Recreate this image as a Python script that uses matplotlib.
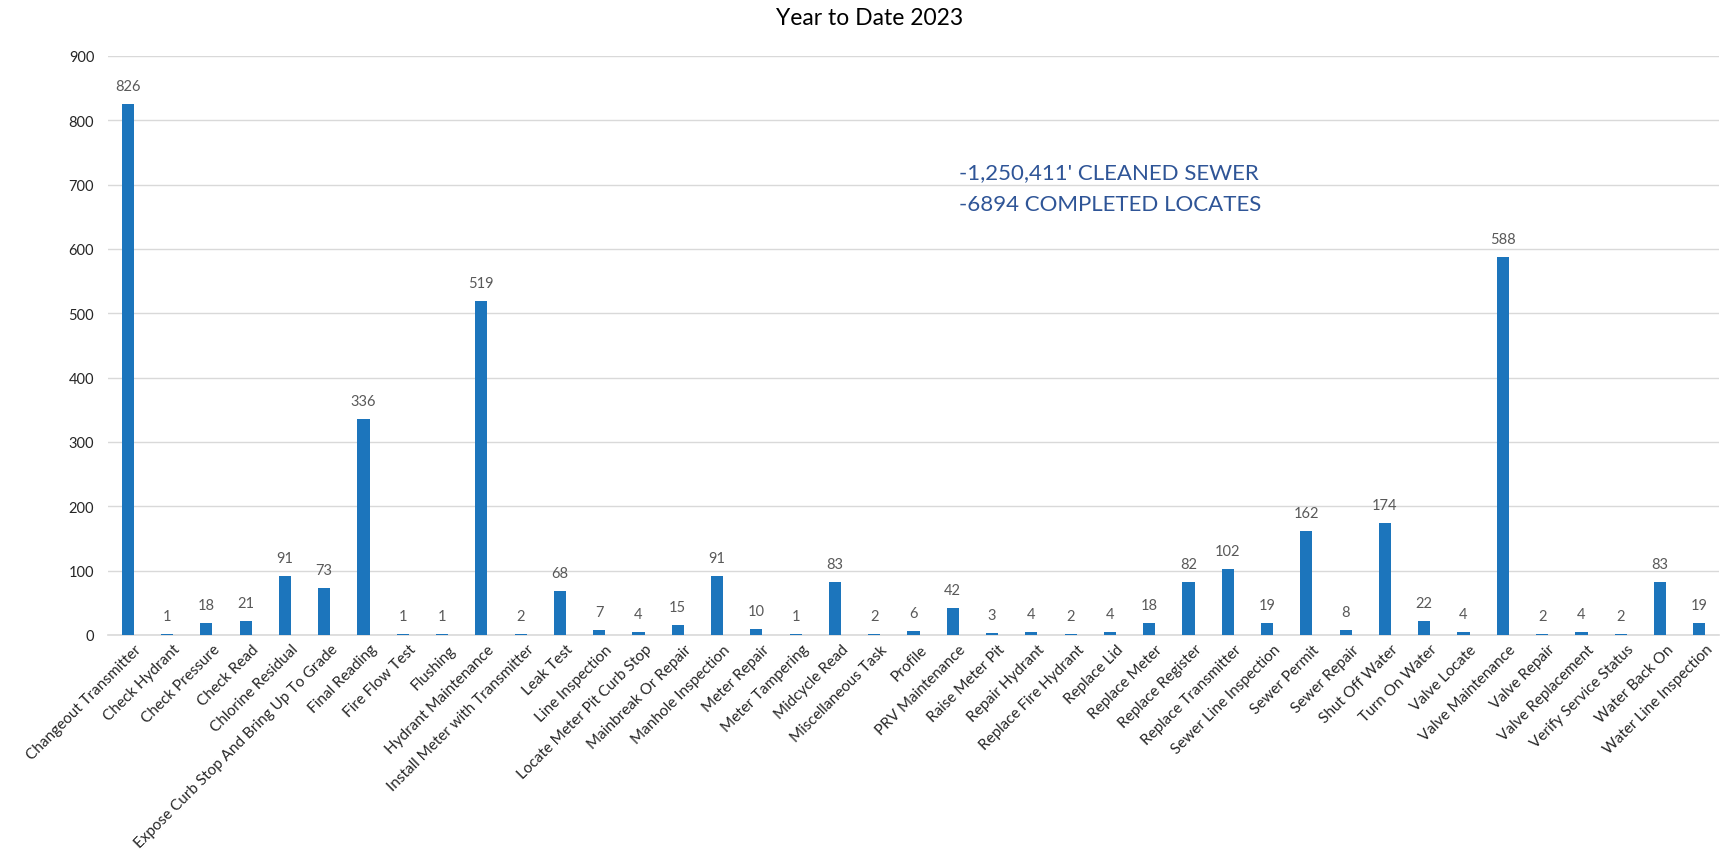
import matplotlib.pyplot as plt
from matplotlib.transforms import ScaledTranslation

plt.rcParams['font.family'] = ['Lato', 'DejaVu Sans']

tasks = [
    'Changeout Transmitter', 'Check Hydrant', 'Check Pressure', 'Check Read',
    'Chlorine Residual', 'Expose Curb Stop And Bring Up To Grade', 'Final Reading',
    'Fire Flow Test', 'Flushing', 'Hydrant Maintenance', 'Install Meter with Transmitter',
    'Leak Test', 'Line Inspection', 'Locate Meter Pit Curb Stop', 'Mainbreak Or Repair',
    'Manhole Inspection', 'Meter Repair', 'Meter Tampering', 'Midcycle Read',
    'Miscellaneous Task', 'Profile', 'PRV Maintenance', 'Raise Meter Pit',
    'Repair Hydrant', 'Replace Fire Hydrant', 'Replace Lid', 'Replace Meter',
    'Replace Register', 'Replace Transmitter', 'Sewer Line Inspection', 'Sewer Permit',
    'Sewer Repair', 'Shut Off Water', 'Turn On Water', 'Valve Locate',
    'Valve Maintenance', 'Valve Repair', 'Valve Replacement', 'Verify Service Status',
    'Water Back On', 'Water Line Inspection',
]
counts = [
    826, 1, 18, 21, 91, 73, 336, 1, 1, 519, 2, 68, 7, 4, 15, 91, 10, 1, 83, 2,
    6, 42, 3, 4, 2, 4, 18, 82, 102, 19, 162, 8, 174, 22, 4, 588, 2, 4, 2, 83, 19,
]
notes = ["-1,250,411' CLEANED SEWER", "-6894 COMPLETED LOCATES"]

fig = plt.figure(figsize=(17.21, 8.53), dpi=100)
ax = fig.add_axes([0.0628, 0.2544, 0.936, 0.6788])

x = list(range(len(tasks)))
bars = ax.bar(x, counts, width=0.31, color='#1C75BC', zorder=3)
for b, v in zip(bars, counts):
    ax.annotate(str(v), (b.get_x() + b.get_width() / 2, v), xytext=(0, 13),
                textcoords='offset points', ha='center', va='center',
                fontsize=10.5, color='#595959')

ax.set_xlim(-0.5, len(tasks) - 0.5)
ax.set_ylim(0, 900)
ax.set_yticks(range(0, 901, 100))
ax.grid(axis='y', color='#D9D9D9', linewidth=1, zorder=0)
for s in ['top', 'right', 'left']:
    ax.spines[s].set_visible(False)
ax.spines['bottom'].set_color('#D9D9D9')
ax.spines['bottom'].set_linewidth(1.2)

ax.set_xticks(x)
ax.set_xticklabels(tasks, rotation=45, ha='right', rotation_mode='anchor',
                   fontsize=11, color='#262626')
ax.tick_params(axis='x', length=0, pad=5)
ax.tick_params(axis='y', length=0, labelsize=10.5, labelcolor='#262626', pad=10)
shift = ScaledTranslation(6 / 100, 0, fig.dpi_scale_trans)
for lab in ax.get_xticklabels():
    lab.set_transform(lab.get_transform() + shift)

ax.text(0.528, 720, notes[0], transform=ax.get_yaxis_transform(),
        fontsize=16, color='#2F5597', va='center', ha='left')
ax.text(0.528, 670, notes[1], transform=ax.get_yaxis_transform(),
        fontsize=16, color='#2F5597', va='center', ha='left')

fig.text(0.505, 0.978, 'Year to Date 2023', ha='center', va='center',
         fontsize=16.5, color='#000000')

fig.savefig('out.png', dpi=100)
